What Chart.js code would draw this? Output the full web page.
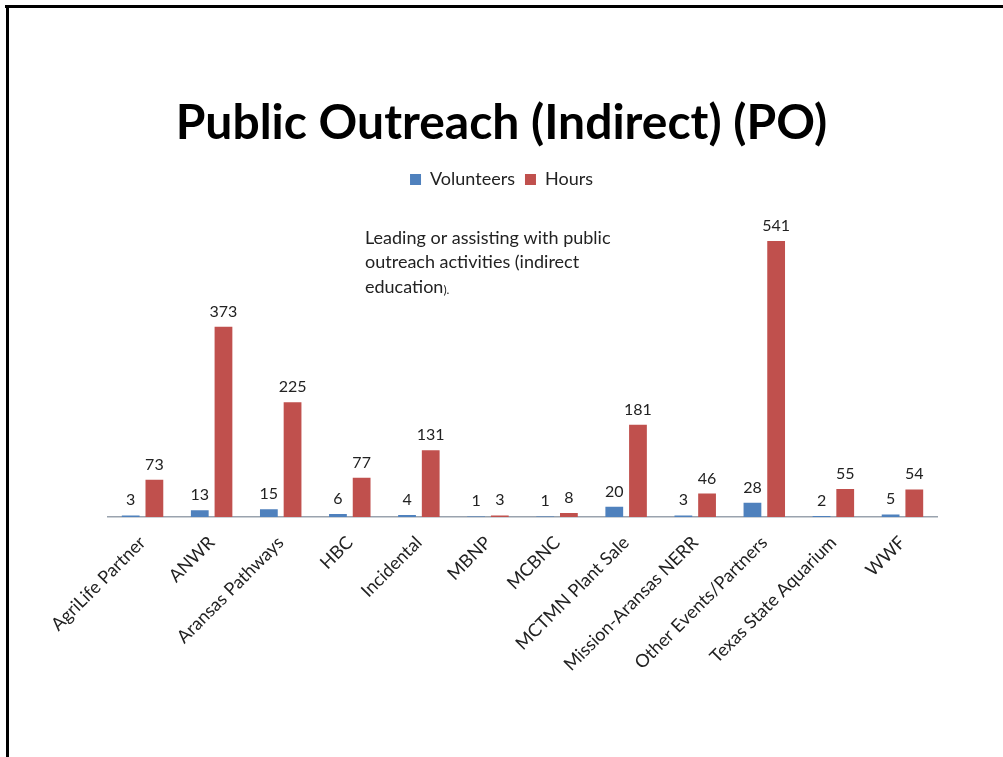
<!DOCTYPE html>
<html>
<head>
<meta charset="utf-8">
<script src="https://cdn.jsdelivr.net/npm/chart.js@4.4.1/dist/chart.umd.min.js"></script>
<style>
  html, body { margin: 0; padding: 0; background: #fff; }
  #wrap { width: 1003px; height: 757px; position: relative; }
</style>
</head>
<body>
<div id="wrap"><canvas id="poChart"></canvas></div>
<script>
const categories = [
  'AgriLife Partner', 'ANWR', 'Aransas Pathways', 'HBC', 'Incidental', 'MBNP',
  'MCBNC', 'MCTMN Plant Sale', 'Mission-Aransas NERR', 'Other Events/Partners',
  'Texas State Aquarium', 'WWF'
];
const volunteers = [3, 13, 15, 6, 4, 1, 1, 20, 3, 28, 2, 5];
const hours = [73, 373, 225, 77, 131, 3, 8, 181, 46, 541, 55, 54];
const noteLines = ['Leading or assisting with public', 'outreach activities (indirect', 'education'];

const FONT = 'Lato';

// slide frame (top and left edges only, like the scan)
const framePlugin = {
  id: 'frame',
  beforeDraw(chart) {
    const ctx = chart.ctx;
    ctx.save();
    ctx.fillStyle = '#fff';
    ctx.fillRect(0, 0, chart.width, chart.height);
    ctx.fillStyle = '#000';
    ctx.fillRect(5, 5, chart.width - 5, 3);
    ctx.fillRect(6, 5, 3, chart.height - 5);
    ctx.restore();
  }
};

// value labels above bars + the description text
const labelsPlugin = {
  id: 'barLabels',
  afterDatasetsDraw(chart) {
    const ctx = chart.ctx;
    ctx.save();
    ctx.fillStyle = '#222';
    ctx.font = '16px ' + FONT;
    ctx.textAlign = 'center';
    ctx.textBaseline = 'alphabetic';
    chart.data.datasets.forEach((ds, i) => {
      chart.getDatasetMeta(i).data.forEach((bar, j) => {
        ctx.fillText(String(ds.data[j]), bar.x, bar.y - 10);
      });
    });

    ctx.textAlign = 'left';
    ctx.textBaseline = 'middle';
    ctx.font = '18px ' + FONT;
    const ys = [238, 262, 287];
    noteLines.forEach((t, k) => ctx.fillText(t, 365, ys[k]));
    const w = ctx.measureText(noteLines[2]).width;
    ctx.font = '12px ' + FONT;
    ctx.fillText(').', 365 + w, ys[2] + 3);
    ctx.restore();
  }
};

new Chart(document.getElementById('poChart'), {
  type: 'bar',
  data: {
    labels: categories,
    datasets: [
      { label: 'Volunteers', data: volunteers, backgroundColor: '#4F81BD' },
      { label: 'Hours', data: hours, backgroundColor: '#C0504D' }
    ]
  },
  options: {
    responsive: true,
    maintainAspectRatio: false,
    animation: false,
    categoryPercentage: 0.686,
    barPercentage: 0.75,
    layout: { padding: { top: 10, left: 66, right: 66, bottom: 0 } },
    plugins: {
      title: {
        display: true,
        text: 'Public Outreach (Indirect) (PO)',
        color: '#000',
        font: { family: FONT, size: 48, weight: 'bold' },
        padding: { top: 85, bottom: 8 }
      },
      legend: {
        display: true,
        labels: {
          color: '#222',
          font: { family: FONT, size: 18 },
          boxWidth: 11,
          boxHeight: 11,
          padding: 10
        }
      },
      tooltip: { enabled: false }
    },
    scales: {
      x: {
        grid: { display: false },
        border: { display: true, color: '#9AA3AE', width: 1.5 },
        ticks: {
          color: '#222',
          font: { family: FONT, size: 18 },
          autoSkip: false,
          maxRotation: 45,
          minRotation: 45,
          padding: 7
        },
        afterFit(scale) { scale.height = 240; }
      },
      y: {
        display: true,
        min: 0,
        max: 624,
        grid: { display: false },
        border: { display: false },
        ticks: { display: false },
        afterFit(scale) { scale.width = 42; }
      }
    }
  },
  plugins: [framePlugin, labelsPlugin]
});
</script>
</body>
</html>
